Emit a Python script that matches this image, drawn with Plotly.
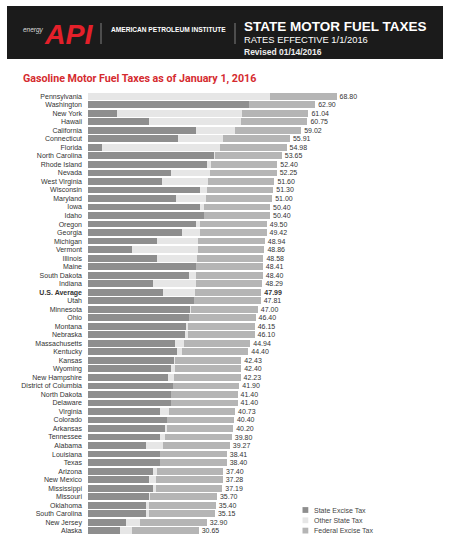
import plotly.graph_objects as go

# ---- data ----
states = ["Pennsylvania", "Washington", "New York", "Hawaii", "California", "Connecticut",
          "Florida", "North Carolina", "Rhode Island", "Nevada", "West Virginia", "Wisconsin",
          "Maryland", "Iowa", "Idaho", "Oregon", "Georgia", "Michigan", "Vermont", "Illinois",
          "Maine", "South Dakota", "Indiana", "U.S. Average", "Utah", "Minnesota", "Ohio",
          "Montana", "Nebraska", "Massachusetts", "Kentucky", "Kansas", "Wyoming",
          "New Hampshire", "District of Columbia", "North Dakota", "Delaware", "Virginia",
          "Colorado", "Arkansas", "Tennessee", "Alabama", "Louisiana", "Texas", "Arizona",
          "New Mexico", "Mississippi", "Missouri", "Oklahoma", "South Carolina", "New Jersey",
          "Alaska"]
totals = [68.80, 62.90, 61.04, 60.75, 59.02, 55.91, 54.98, 53.65, 52.40, 52.25, 51.60, 51.30,
          51.00, 50.40, 50.40, 49.50, 49.42, 48.94, 48.86, 48.58, 48.41, 48.40, 48.29, 47.99,
          47.81, 47.00, 46.40, 46.15, 46.10, 44.94, 44.40, 42.43, 42.40, 42.23, 41.90, 41.40,
          41.40, 40.73, 40.40, 40.20, 39.80, 39.27, 38.41, 38.40, 37.40, 37.28, 37.19, 35.70,
          35.40, 35.15, 32.90, 30.65]
state_excise = [0.0, 44.5, 8.05, 17.0, 30.0, 25.0, 4.0, 35.0, 33.0, 23.0, 20.5, 30.9,
                24.5, 31.0, 32.0, 30.0, 26.0, 19.0, 12.1, 19.0, 30.0, 28.0, 18.0, 20.9,
                29.4, 28.5, 28.0, 27.0, 26.8, 24.0, 24.6, 24.0, 23.0, 22.2, 23.5, 23.0,
                23.0, 19.9, 22.0, 21.5, 20.0, 16.0, 20.0, 20.0, 18.0, 17.0, 18.0, 17.0,
                16.0, 16.0, 10.5, 8.95]
federal_rate = 18.4
federal = [federal_rate] * len(states)
other_state = [round(t - s - f, 2) for t, s, f in zip(totals, state_excise, federal)]
series_names = ["State Excise Tax", "Other State Tax", "Federal Excise Tax"]

# ---- styles ----
C_DARK, C_LIGHT, C_FED = "#8e8e8e", "#e6e6e6", "#b5b5b5"
FONT = "Liberation Sans, Arial, sans-serif"
W, H = 450, 540
L, R, T, B = 88, 2, 92, 5
PW, PH = W - L - R, H - T - B
XMAX = PW / 3.612


def px(x):
    return (x - L) / PW


def py(y):
    return 1 - (y - T) / PH


ticktext = ["<b>%s</b>" % s if s == "U.S. Average" else s for s in states]
labels = ["<b>%.2f</b>" % t if s == "U.S. Average" else "%.2f" % t for s, t in zip(states, totals)]

fig = go.Figure()
for name, vals, col in zip(series_names, [state_excise, other_state, federal], [C_DARK, C_LIGHT, C_FED]):
    is_last = name == series_names[-1]
    fig.add_trace(go.Bar(y=states, x=vals, orientation="h", name=name,
                         marker=dict(color=col, line=dict(width=0)), showlegend=False,
                         hoverinfo="x+y+name",
                         text=labels if is_last else None,
                         textposition="outside" if is_last else "none",
                         constraintext="none", cliponaxis=False,
                         outsidetextfont=dict(family=FONT, size=7, color="#333333")))

shapes = []
ann = []
# header
shapes.append(dict(type="rect", xref="paper", yref="paper", x0=px(7), x1=px(443), y0=py(59), y1=py(6),
                   fillcolor="#1b1b1b", line=dict(width=0), layer="below"))
for xx in (101, 235):
    shapes.append(dict(type="line", xref="paper", yref="paper", x0=px(xx), x1=px(xx), y0=py(44), y1=py(23),
                       line=dict(color="#9a9a9a", width=0.8)))
ann.append(dict(text="<i>energy</i>", x=px(21), y=py(30), xanchor="left", yanchor="middle",
                font=dict(family=FONT, size=6.5, color="#dddddd")))
ann.append(dict(text="<b><i>API</i></b>", x=px(42), y=py(33.5), xanchor="left", yanchor="middle",
                font=dict(family=FONT, size=28.5, color="#e4202a")))
ann.append(dict(text="<b>AMERICAN PETROLEUM INSTITUTE</b>", x=px(109), y=py(29.5), xanchor="left",
                yanchor="middle", font=dict(family=FONT, size=6.6, color="#ffffff")))
ann.append(dict(text="<b>STATE MOTOR FUEL TAXES</b>", x=px(242), y=py(27), xanchor="left",
                yanchor="middle", font=dict(family=FONT, size=13.5, color="#ffffff")))
ann.append(dict(text="RATES EFFECTIVE 1/1/2016", x=px(242), y=py(40), xanchor="left",
                yanchor="middle", font=dict(family=FONT, size=9.4, color="#ffffff")))
ann.append(dict(text="<b>Revised 01/14/2016</b>", x=px(242), y=py(52), xanchor="left",
                yanchor="middle", font=dict(family=FONT, size=8.5, color="#eeeeee")))
# subtitle
ann.append(dict(text="<b>Gasoline Motor Fuel Taxes as of January 1, 2016</b>", x=px(21), y=py(78.5),
                xanchor="left", yanchor="middle",
                font=dict(family="Liberation Sans Narrow, Roboto, sans-serif",
                          size=10.7, color="#d52b2f")))
# legend
for i, (name, col) in enumerate(zip(series_names, [C_DARK, C_LIGHT, C_FED])):
    yc = 510 + i * 10.3
    shapes.append(dict(type="rect", xref="paper", yref="paper", x0=px(302.5), x1=px(308.3),
                       y0=py(yc + 2.9), y1=py(yc - 2.9), fillcolor=col, line=dict(width=0)))
    ann.append(dict(text=name, x=px(311.5), y=py(yc), xanchor="left", yanchor="middle",
                    font=dict(family=FONT, size=7, color="#444444")))
for a in ann:
    a.update(xref="paper", yref="paper", showarrow=False)

fig.update_layout(
    width=W, height=H, barmode="stack", bargap=0.2,
    margin=dict(l=L, r=R, t=T, b=B, pad=0),
    paper_bgcolor="white", plot_bgcolor="white",
    xaxis=dict(range=[0, XMAX], visible=False, showgrid=False, zeroline=False, fixedrange=True),
    yaxis=dict(autorange=False, range=[len(states) - 0.5, -0.5], tickmode="array",
               tickvals=states, ticktext=ticktext, ticks="", showgrid=False, zeroline=False,
               showline=False, ticklabelstandoff=5,
               tickfont=dict(family=FONT, size=7, color="#333333"), fixedrange=True),
    shapes=shapes, annotations=ann, font=dict(family=FONT),
)
fig.write_html("out.html")
